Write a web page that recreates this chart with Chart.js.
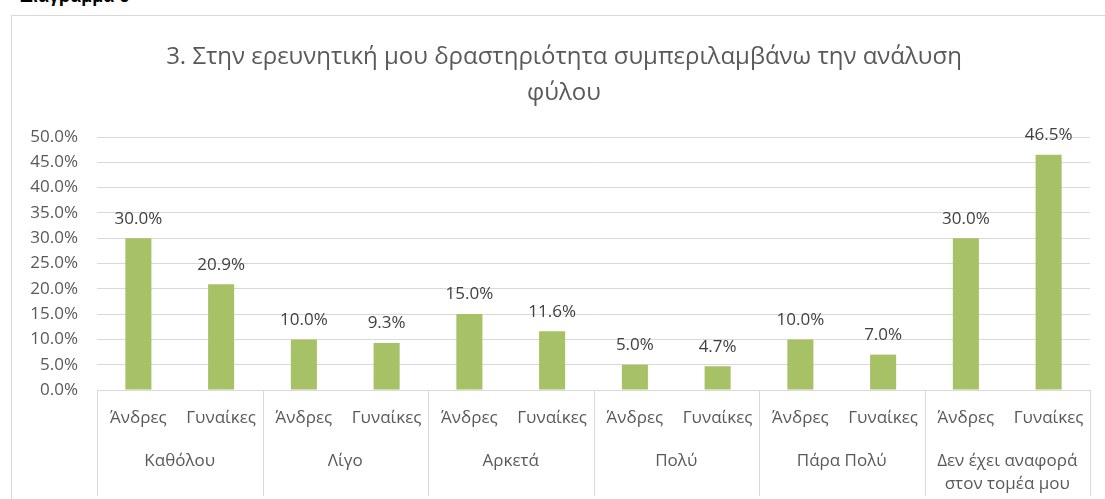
<!DOCTYPE html>
<html>
<head>
<meta charset="utf-8">
<script src="https://cdn.jsdelivr.net/npm/chart.js@4"></script>
<style>
  html, body { margin: 0; padding: 0; background: #fff; overflow: hidden; }
  #wrap { position: relative; width: 1105px; height: 499px; }
  #frame { position: absolute; left: 11px; top: 15px; width: 1110px; height: 500px; border: 1px solid #d9d9d9; box-sizing: border-box; }
  #heading { position: absolute; left: 20px; top: -14px; font: bold 18px "Liberation Sans", sans-serif; color: #000; }
  canvas { position: absolute; left: 0; top: 0; }
</style>
</head>
<body>
<div id="wrap">
  <div id="heading">Διάγραμμα 6</div>
  <div id="frame"></div>
  <canvas id="myChart" width="1105" height="499"></canvas>
</div>
<script>
var titleLines = ["3. Στην ερευνητική μου δραστηριότητα συμπεριλαμβάνω την ανάλυση", "φύλου"];
var groups = [["Καθόλου"], ["Λίγο"], ["Αρκετά"], ["Πολύ"], ["Πάρα Πολύ"], ["Δεν έχει αναφορά", "στον τομέα μου"]];
var genders = ["Άνδρες", "Γυναίκες"];
var values = [30.0, 20.9, 10.0, 9.3, 15.0, 11.6, 5.0, 4.7, 10.0, 7.0, 30.0, 46.5];
var yTicks = [0, 5, 10, 15, 20, 25, 30, 35, 40, 45, 50];

var labels = [];
groups.forEach(function (g) {
  genders.forEach(function (s) { labels.push(s); });
});

var FONT = '"Open Sans", sans-serif';
var TEXT = '#595959';
var LINE = '#d9d9d9';

var extras = {
  id: 'extras',
  afterDraw: function (chart) {
    var c = chart.ctx, area = chart.chartArea, x = chart.scales.x;
    c.save();
    // title
    c.fillStyle = TEXT;
    c.font = '24px ' + FONT;
    c.textAlign = 'center';
    c.textBaseline = 'middle';
    c.fillText(titleLines[0], 564, 57);
    c.fillText(titleLines[1], 564, 93);

    // value labels
    var meta = chart.getDatasetMeta(0);
    c.font = '17px ' + FONT;
    c.fillStyle = '#404040';
    c.textBaseline = 'bottom';
    meta.data.forEach(function (bar, i) {
      c.fillText(values[i].toFixed(1) + '%', bar.x, bar.y - 11);
    });

    // multi-level category axis
    var step = (area.right - area.left) / labels.length;
    c.fillStyle = TEXT;
    c.textBaseline = 'middle';
    labels.forEach(function (l, i) {
      c.fillText(l, x.getPixelForValue(i), 418);
    });
    groups.forEach(function (g, gi) {
      var cx = area.left + step * (gi * 2 + 1);
      g.forEach(function (line, li) {
        c.fillText(line, cx, 461 + li * 23);
      });
    });
    c.strokeStyle = LINE;
    c.lineWidth = 1;
    for (var k = 0; k <= groups.length; k++) {
      var px = Math.round(area.left + step * k * 2) + 0.5;
      c.beginPath();
      c.moveTo(px, area.bottom);
      c.lineTo(px, 496);
      c.stroke();
    }
    c.restore();
  }
};

new Chart(document.getElementById('myChart'), {
  type: 'bar',
  data: {
    labels: labels,
    datasets: [{
      data: values,
      backgroundColor: '#a7c266',
      categoryPercentage: 1,
      barPercentage: 0.315
    }]
  },
  options: {
    responsive: false,
    animation: false,
    layout: { padding: { top: 137, right: 15, left: 0, bottom: 0 } },
    plugins: { legend: { display: false }, tooltip: { enabled: false } },
    scales: {
      x: {
        grid: { display: false },
        border: { display: false },
        ticks: { display: false },
        afterFit: function (s) { s.height = 109; }
      },
      y: {
        min: 0,
        max: 50,
        afterBuildTicks: function (s) { s.ticks = yTicks.map(function (v) { return { value: v }; }); },
        afterFit: function (s) { s.width = 97; },
        grid: { color: LINE, drawTicks: false },
        border: { display: false },
        ticks: {
          padding: 19,
          color: TEXT,
          font: { family: 'Open Sans', size: 17 },
          callback: function (v) { return v.toFixed(1) + '%'; }
        }
      }
    }
  },
  plugins: [extras]
});
</script>
</body>
</html>
